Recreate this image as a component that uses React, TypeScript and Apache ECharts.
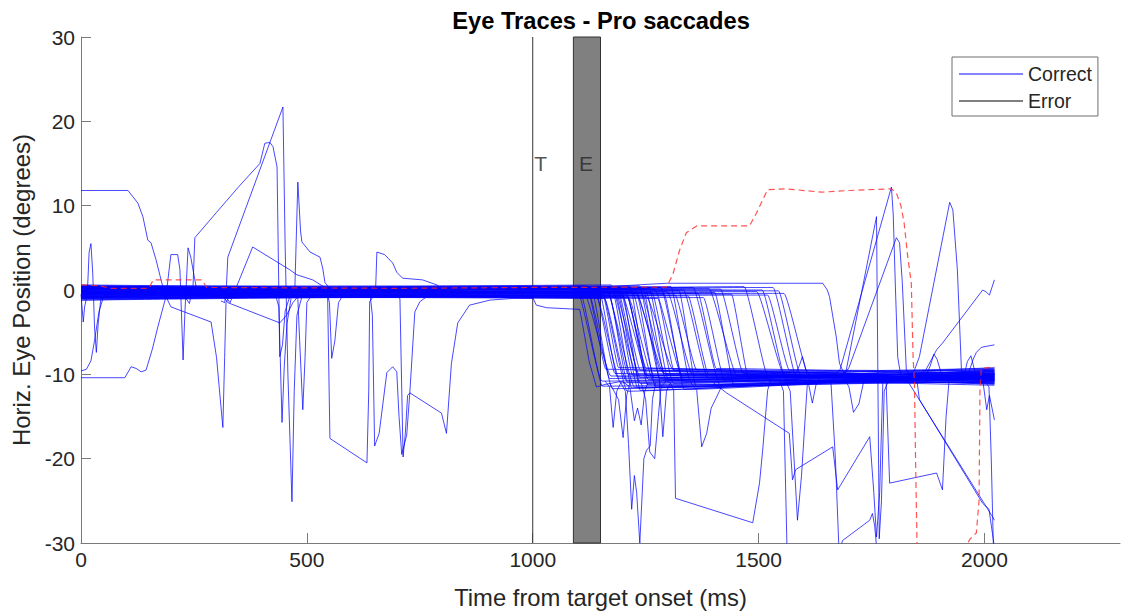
import React, { useEffect, useRef } from "react";
import * as echarts from "echarts";

// ---------- axes ----------
const xTickValues = [0, 500, 1000, 1500, 2000];
const xMin = 0;
const xMax = 2300;
const yMin = -30;
const yMax = 30;
const yStep = 10;

// ---------- event markers ----------
const markerNames = ["T", "E"];
const markerTimes = [1000, 1090];
const markerLevel = 15;
const eventWindow = [1090, 1150];
const targetLine = [[1000, -30], [1000, 30]];

// ---------- main bundle of correct trials (saccade from ~0 deg to ~-10 deg) ----------
const traceEnd = 2022;
const bandOnset = [
  1098, 1106, 1113, 1120, 1126, 1132, 1137, 1142, 1147, 1151,
  1155, 1159, 1163, 1167, 1170, 1174, 1178, 1181, 1185, 1189,
  1192, 1196, 1200, 1204, 1208, 1212, 1216, 1221, 1226, 1231,
  1236, 1241, 1246, 1252, 1258, 1264, 1270, 1277, 1284, 1291,
  1298, 1306, 1315, 1324, 1334, 1344, 1355, 1366, 1378, 1390,
  1403, 1416, 1440, 1468, 1496, 1508, 1520, 1532, 1544, 1556,
  1186, 1210, 1230, 1250,
];
const bandDuration = [
  55, 48, 60, 42, 50, 38, 45, 52, 40, 58,
  35, 47, 62, 44, 39, 53, 41, 57, 36, 49,
  46, 60, 38, 51, 43, 55, 37, 48, 64, 40,
  45, 52, 39, 58, 42, 47, 61, 36, 50, 44,
  56, 41, 48, 38, 53, 45, 59, 40, 47, 62,
  43, 50, 38, 56, 60, 52, 48, 55, 50, 58,
  46, 40, 54, 44,
];
const bandPreStart = [
  -0.3, 0.2, -0.8, 0.4, -0.5, -1.0, 0.1, -0.2, -0.6, 0.5,
  -0.9, -0.1, 0.3, -0.4, -1.2, 0.0, -0.7, 0.6, -0.3, -0.5,
  0.2, -0.8, -0.1, 0.4, -1.1, -0.4, 0.1, -0.6, 0.3, -0.9,
  -0.2, 0.5, -0.5, -1.0, 0.0, -0.3, 0.4, -0.7, -0.2, 0.1,
  -0.8, 0.3, -0.4, -1.2, 0.2, -0.6, -0.1, 0.5, -0.9, -0.3,
  0.0, -0.5, 0.4, -0.8, -0.2, 0.2, -1.0, -0.4, 0.3, -0.6,
  -0.1, -0.7, 0.1, -0.3,
];
const bandPreEnd = [
  0.1, -0.4, -0.2, 0.5, -0.7, -0.3, 0.3, -0.9, 0.0, 0.4,
  -0.5, -1.0, 0.2, -0.2, -0.6, 0.6, -0.4, 0.1, -0.8, -0.1,
  0.3, -0.3, -0.7, 0.2, -0.5, -0.9, 0.4, -0.2, 0.0, -0.6,
  0.5, -0.4, -0.1, -0.8, 0.2, -0.3, 0.1, -1.0, 0.3, -0.5,
  -0.2, 0.4, -0.6, -0.1, 0.0, -0.7, 0.3, -0.4, -0.9, 0.2,
  -0.3, 0.1, -0.5, 0.4, -0.2, 0.0, -0.6, 0.3, -0.1, -0.4,
  0.2, -0.8, -0.3, 0.1,
];
const bandPostStart = [
  -10.8, -11.4, -10.2, -9.4, -11.7, -10.5, -9.9, -11.0, -10.3, -12.0,
  -9.2, -10.7, -11.5, -10.0, -10.9, -9.6, -11.6, -10.4, -10.1, -11.1,
  -9.5, -10.6, -11.9, -10.2, -9.3, -10.8, -11.2, -10.4, -9.9, -11.4,
  -10.5, -10.0, -11.6, -9.4, -10.7, -11.1, -10.3, -9.6, -10.9, -11.8,
  -10.1, -10.6, -9.5, -11.5, -10.4, -10.0, -11.2, -9.3, -10.8, -10.2,
  -11.4, -9.9, -10.5, -10.9, -10.0, -10.6, -9.5, -11.0, -10.3, -10.7,
  -11.6, -10.1, -9.6, -10.6,
];
const bandPostEnd = [
  -10.2, -10.6, -9.4, -10.9, -10.1, -9.7, -10.7, -10.3, -11.1, -9.6,
  -10.4, -10.0, -10.8, -9.3, -10.5, -11.2, -9.9, -10.3, -10.7, -9.5,
  -10.2, -11.0, -9.8, -10.4, -10.6, -9.2, -10.9, -10.1, -10.5, -9.7,
  -11.3, -10.0, -10.3, -9.9, -10.8, -9.5, -10.6, -10.2, -11.0, -9.8,
  -10.4, -9.6, -10.7, -10.1, -9.4, -10.9, -10.3, -10.0, -10.6, -9.9,
  -10.5, -11.1, -9.7, -10.2, -10.8, -10.0, -9.6, -10.4, -10.7, -10.1,
  -9.9, -10.3, -10.6, -10.0,
];

// ---------- individual deviating correct-trial segments [ms, deg] ----------
const trHighStart = [[0, 11.8], [104, 11.8], [126, 10.3], [137, 8.7], [148, 5.9], [155, 5.6], [166, 3.6], [181, 0.4], [195, -0.2]];
const trLowStart = [[0, -10.4], [97, -10.4], [111, -9.1], [122, -9.3], [133, -9.7], [144, -9.5], [158, -7], [170, -4.4], [188, -0.8], [200, -0.4]];
const trLowStart2 = [[0, -9.6], [12, -9.4], [22, -8.4], [30, -6], [40, -2.5], [50, -0.8], [60, -0.4]];
const trEarlySpikes = [[0, -0.5], [5, -3.8], [8, -2], [14, -0.5], [18, 4.5], [22, 5.5], [26, 2], [30, -4.5], [34, -7.4], [38, -4], [44, -1], [55, -0.4]];
const trPeak17 = [[225, -0.4], [240, -1.6], [248, 0.5], [252, 6.2], [300, 9.2], [350, 12.3], [396, 15], [407, 17.4], [418, 17.5], [425, 17], [434, 14.6], [440, -7.9], [446, -6.5], [452, -2.5], [462, -0.8], [475, -0.3]];
const trPeak21 = [[310, -1.3], [318, -1.5], [322, 0.5], [325, 3.9], [447, 21.7], [452, 5], [458, -10], [467, -25.1], [472, -12], [478, -3], [488, -1], [500, -0.4]];
const trSpike480 = [[465, -0.5], [473, -0.6], [480, 12.8], [486, 7], [489, 5.7], [507, 4.5], [529, 3.9], [535, 2.6], [540, 0.9], [550, 0.2]];
const trDip491 = [[470, -0.4], [480, -1], [484, -6], [491, -14.2], [496, -8], [500, -1.5], [510, -0.6]];
const trDip445 = [[430, -0.5], [438, -2], [445, -15.7], [450, -9], [456, -4], [465, -1]];
const trDip314 = [[190, -1], [199, -2], [288, -3.8], [300, -8], [314, -16.3], [318, -8], [321, -1.5], [330, -0.6]];
const trZigzag220 = [[180, -0.5], [188, -0.8], [199, 4.2], [214, 4.2], [219, 2.4], [226, -8.3], [230, -2.7], [237, 5], [243, 3.9], [252, 1.2], [258, -0.5]];
const trBump380 = [[320, -0.8], [330, -1.5], [380, 5.1], [462, 2.4], [478, 1.8], [513, 1.2], [540, 0.3]];
const trSlope440 = [[318, -1], [325, -1.5], [440, -3.9], [455, -3], [469, -1.5], [480, -0.8]];
const trBowl600 = [[540, -0.5], [546, -0.8], [551, -17.6], [633, -20.5], [637, -12], [639, -1.4], [650, -0.5]];
const trDip555 = [[545, -0.4], [550, -1.5], [555, -8.1], [562, -6], [570, -1.5], [580, -0.6]];
const trBump655 = [[640, -0.3], [652, -0.2], [655, 4.5], [672, 4.2], [690, 3.2], [699, 2.1], [712, 1.4], [756, 1.2], [788, 0.6], [800, 0]];
const trDoubleDip = [[640, -0.5], [645, -3], [650, -18.5], [660, -17], [677, -9.8], [690, -9.1], [699, -9.7], [704, -15], [710, -19.5], [721, -17.2], [728, -12.1], [739, -2.6], [750, -1.4], [770, -0.6]];
const trSlowReturn = [[700, -0.8], [706, -1], [713, -19.8], [718, -17], [723, -12.5], [728, -12.2], [798, -14.6], [809, -17], [820, -8.7], [834, -3.9], [860, -1.8], [905, -1.2], [956, -1], [1000, -1]];
const trAfterT = [[990, -0.6], [1000, -0.9], [1008, -1.8], [1031, -2.1], [1104, -2.3], [1110, -4], [1125, -8.5], [1141, -11.5], [1160, -11.2], [1200, -10.8]];
const trLateFlat = [[1100, 0.2], [1296, 0.8], [1642, 0.8], [1652, 0], [1657, -0.8], [1672, -5.6], [1679, -8.7], [1690, -10], [1720, -10.3]];
const trPeak1761 = [[1680, -10.5], [1694, -9.5], [1761, 8.7], [1764, -10], [1767, -29.5], [1772, -25], [1778, -12], [1790, -10.4]];
const trPeak1794 = [[1660, -10.3], [1680, -9.5], [1794, 12.2], [1798, 9], [1803, 0], [1808, -8], [1815, -10.2]];
const trPeak1805 = [[1690, -10], [1700, -9.2], [1805, 6.2], [1812, 5.6], [1818, 1], [1827, -9.5], [1840, -10.4]];
const trPeak1923 = [[1830, -10.3], [1845, -9.5], [1856, -7.9], [1923, 10.4], [1930, 9.5], [1940, 2.4], [1949, -9.5], [1960, -10.4]];
const trRiseEnd = [[1850, -10.3], [1870, -9.5], [1894, -7.1], [1907, -6.3], [1996, 0], [2003, -0.2], [2011, -0.6], [2022, 1.2]];
const trEndHigh = [[1950, -10.4], [1965, -9.8], [1975, -8.2], [1982, -7.4], [1993, -6.8], [2022, -6.5]];
const trEndLow = [[1990, -10.5], [1997, -11], [2005, -14.2], [2011, -12.5], [2022, -15.4]];
const trDriftDown1 = [[1820, -10.3], [1830, -10.8], [2018, -26.9], [2022, -27.3]];
const trDriftDown2 = [[1850, -10.5], [1856, -13], [1996, -25.3], [2010, -26], [2022, -30.5]];
const trSaw = [[1400, -11], [1429, -12.2], [1568, -17], [1575, -22.5], [1582, -21.3], [1664, -18.6], [1675, -23.7], [1746, -17.4], [1755, -24], [1761, -29.3], [1768, -24], [1775, -11], [1790, -10.3]];
const trDip1586 = [[1560, -10.8], [1570, -12], [1586, -27.3], [1595, -22], [1608, -11], [1620, -10.4]];
const trDip1619 = [[1600, -10.5], [1610, -11], [1619, -13.4], [1628, -11], [1640, -10.2]];
const trSaw2 = [[1770, -10.4], [1782, -10.5], [1790, -22.9], [1894, -21.7], [1907, -23.7], [1915, -15], [1922, -10.5], [1935, -10.3]];
const trBottom1700 = [[1660, -10.8], [1670, -20], [1678, -31], [1686, -29.7], [1746, -27.3], [1752, -26.5], [1757, -28], [1762, -31]];
const trDip1178 = [[1160, -10.8], [1170, -11.5], [1178, -16.3], [1186, -12], [1195, -11]];
const trDeep1237 = [[1195, -11], [1205, -12], [1212, -18.2], [1219, -26], [1225, -22], [1230, -24], [1237, -30], [1246, -20], [1252, -19], [1260, -18.5], [1265, -13], [1272, -11]];
const trDip1270 = [[1240, -11], [1250, -13], [1259, -19.2], [1270, -20], [1278, -15], [1284, -11.5], [1295, -10.8]];
const trDip1288 = [[1280, -10.8], [1288, -17.4], [1296, -12], [1305, -11]];
const trCorner = [[1290, -10.6], [1305, -11], [1312, -11.9], [1316, -24.7], [1487, -27.6], [1502, -22.9], [1509, -19], [1520, -11.9], [1531, -9.8], [1545, -10.2]];
const trDip1374 = [[1350, -11], [1363, -11.9], [1374, -18.6], [1385, -17], [1395, -14], [1407, -12.7], [1420, -11.2]];
const trDip1225 = [[1200, -10.9], [1215, -11.5], [1225, -15.5], [1232, -14], [1240, -16], [1248, -12], [1255, -11]];
const trDip1200 = [[1170, -11], [1190, -13], [1200, -17.5], [1208, -12.5], [1215, -11]];
const trDip1710 = [[1690, -10.5], [1700, -11.5], [1710, -14.5], [1722, -13.5], [1732, -11], [1745, -10.4]];
const trBump1597 = [[1580, -10.2], [1590, -9], [1597, -7.9], [1605, -9.5], [1615, -10.2]];
const trBump1888 = [[1870, -10.2], [1880, -9], [1888, -7.6], [1895, -8.2], [1905, -10]];
const trBump1970 = [[1955, -10.2], [1962, -8.5], [1970, -7.8], [1978, -9.5], [1985, -10.2]];
const trDrop1563 = [[1545, -10.5], [1555, -12], [1563, -31]];
const trDrop2020 = [[2000, -10.8], [2010, -11.5], [2015, -20], [2020, -31]];

const correctOutliers = [
  trHighStart, trLowStart, trLowStart2, trEarlySpikes, trPeak17, trPeak21, trSpike480, trDip491,
  trDip445, trDip314, trZigzag220, trBump380, trSlope440, trBowl600, trDip555, trBump655,
  trDoubleDip, trSlowReturn, trAfterT, trLateFlat, trPeak1761, trPeak1794, trPeak1805, trPeak1923,
  trRiseEnd, trEndHigh, trEndLow, trDriftDown1, trDriftDown2, trSaw, trDip1586, trDip1619,
  trSaw2, trBottom1700, trDip1178, trDeep1237, trDip1270, trDip1288, trCorner, trDip1374,
  trDip1225, trDip1200, trDip1710, trBump1597, trBump1888, trBump1970, trDrop1563, trDrop2020,
];

// ---------- error trials (red dashed) ----------
const errorTrace1 = [
  [0, 0.6], [40, 0.5], [66, 0.2], [150, 0.2], [160, 1.2], [268, 1.2], [278, 0.3], [700, 0.2], [1000, 0.3],
  [1296, 0.35], [1310, 1.8], [1325, 4.7], [1340, 6.8], [1363, 7.6], [1480, 7.6], [1495, 9.1], [1520, 11.9],
  [1560, 12], [1640, 11.6], [1700, 11.8], [1794, 12], [1805, 11.5], [1815, 10], [1822, 8], [1830, 4],
  [1838, 0.8], [1842, -8], [1845, -11], [1848, -22], [1851, -31],
];
const errorTrace2 = [[1955, -31], [1967, -29.6], [1982, -28.8], [1988, -25], [1990, -12], [1993, -9.3], [2022, -9.1]];
const errorTraces = [errorTrace1, errorTrace2];

const FONT = "'Liberation Sans', Arial, Helvetica, sans-serif";
const TEXT = "#262626";
const AXIS = "#7a7a7a";

export default function App() {
  const ref = useRef<HTMLDivElement>(null);

  useEffect(() => {
    if (!ref.current) return;
    const chart = echarts.init(ref.current, undefined, { renderer: "svg" });

    const blueLine = { color: "rgba(0,0,255,0.72)", width: 1 };

    const bandSeries = bandOnset.map((t, i) => ({
      type: "line",
      name: "Correct",
      symbol: "none",
      silent: true,
      z: 3,
      smooth: 0.15,
      smoothMonotone: "x",
      lineStyle: blueLine,
      itemStyle: { color: "#4d4dff" },
      data: [
        [0, bandPreStart[i]],
        [t, bandPreEnd[i]],
        [t + bandDuration[i], bandPostStart[i]],
        [traceEnd, bandPostEnd[i]],
      ],
    }));

    const outlierSeries = correctOutliers.map((d) => ({
      type: "line",
      name: "Correct",
      symbol: "none",
      silent: true,
      z: 3,
      lineStyle: blueLine,
      itemStyle: { color: "#4d4dff" },
      data: d,
    }));

    const errorSeries = errorTraces.map((d) => ({
      type: "line",
      name: "ErrorTrace",
      symbol: "none",
      silent: true,
      z: 4,
      lineStyle: { color: "rgba(255,40,40,0.8)", width: 1.2, type: [6, 4] },
      data: d,
    }));

    const option: any = {
      animation: false,
      textStyle: { fontFamily: FONT },
      title: {
        text: "Eye Traces - Pro saccades",
        left: 596,
        textAlign: "center",
        top: 4,
        textStyle: { fontFamily: FONT, fontSize: 23.7, fontWeight: "bold", color: "#000" },
      },
      legend: {
        data: [
          { name: "Correct", icon: "rect", itemStyle: { color: "#5a5aff" } },
          { name: "Error", icon: "rect", itemStyle: { color: "#555" } },
        ],
        orient: "vertical",
        left: 952,
        top: 57,
        padding: [7, 6, 5, 7],
        itemWidth: 64,
        itemHeight: 1.6,
        itemGap: 7,
        selectedMode: false,
        borderColor: "#6e6e6e",
        borderWidth: 1,
        backgroundColor: "#fff",
        textStyle: { fontFamily: FONT, fontSize: 19.5, color: TEXT, lineHeight: 20 },
      },
      grid: { left: 81, top: 37, right: 4, bottom: 70, containLabel: false, outerBoundsMode: "none" },
      xAxis: {
        type: "value",
        min: xMin,
        max: xMax,
        interval: 500,
        name: "Time from target onset (ms)",
        nameLocation: "middle",
        nameGap: 42,
        nameTextStyle: { fontFamily: FONT, fontSize: 23.8, color: TEXT },
        axisLine: { onZero: false, lineStyle: { color: AXIS, width: 1 } },
        axisTick: { inside: true, length: 10, lineStyle: { color: AXIS }, customValues: xTickValues },
        axisLabel: {
          margin: 6,
          fontSize: 21,
          color: TEXT,
          fontFamily: FONT,
          customValues: xTickValues,
          formatter: (v: number) => (v > 2000 ? "" : String(v)),
        },
        splitLine: { show: false },
      },
      yAxis: {
        type: "value",
        min: yMin,
        max: yMax,
        interval: yStep,
        name: "Horiz. Eye Position (degrees)",
        nameLocation: "middle",
        nameGap: 46,
        nameTextStyle: { fontFamily: FONT, fontSize: 24, color: TEXT },
        axisLine: { onZero: false, lineStyle: { color: AXIS, width: 1 } },
        axisTick: { inside: true, length: 10, lineStyle: { color: AXIS } },
        axisLabel: { margin: 6, fontSize: 21, color: TEXT, fontFamily: FONT },
        splitLine: { show: false },
      },
      series: [
        {
          type: "line",
          name: "EventWindow",
          data: [],
          silent: true,
          z: 1,
          markArea: {
            silent: true,
            itemStyle: { color: "#808080", borderColor: "#333", borderWidth: 1 },
            data: [[{ xAxis: eventWindow[0], yAxis: yMin }, { xAxis: eventWindow[1], yAxis: yMax }]],
          },
        },
        {
          type: "line",
          name: "Error",
          symbol: "none",
          silent: true,
          z: 2,
          lineStyle: { color: "#333", width: 1 },
          itemStyle: { color: "#333" },
          data: targetLine,
        },
        ...bandSeries,
        ...outlierSeries,
        ...errorSeries,
        {
          type: "scatter",
          name: "Markers",
          silent: true,
          z: 5,
          symbolSize: 1,
          itemStyle: { color: "rgba(0,0,0,0)" },
          label: {
            show: true,
            position: "right",
            distance: 2,
            formatter: "{b}",
            fontFamily: FONT,
            fontSize: 21,
            color: TEXT,
          },
          data: markerNames.map((n, i) => ({
            name: n,
            value: [markerTimes[i], markerLevel],
            label: { distance: i === 0 ? 1 : 5 },
          })),
        },
      ],
    };

    chart.setOption(option);
    return () => chart.dispose();
  }, []);

  return (
    <div
      ref={ref}
      style={{ position: "absolute", left: 0, top: 0, width: 1124, height: 613, background: "#fff" }}
    />
  );
}
